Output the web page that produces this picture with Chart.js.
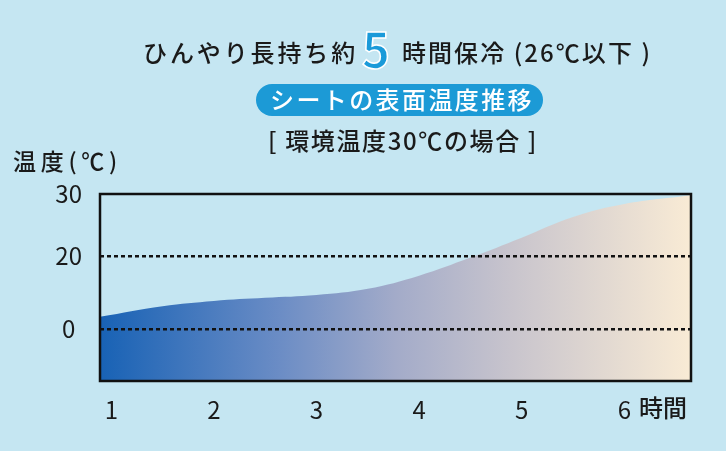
<!DOCTYPE html>
<html lang="ja">
<head>
<meta charset="utf-8">
<script src="https://cdn.jsdelivr.net/npm/chart.js@4.4.0/dist/chart.umd.min.js"></script>
<style>
html, body { margin: 0; padding: 0; background: #c5e6f2; }
</style>
</head>
<body>
<canvas id="chartCanvas" width="726" height="451"></canvas>
<script>
// data (hours -> surface temperature)
var hours = [0.89, 1.5, 2, 2.5, 3, 3.5, 4, 4.5, 5, 5.5, 6, 6.65];
var temps = [10.3, 12.0, 12.85, 13.35, 13.8, 14.8, 16.9, 19.8, 23.0, 26.3, 28.4, 29.8];
var xTicks = [1, 2, 3, 4, 5, 6];
var xTickLabels = ['1', '2', '3', '4', '5', '6'];
var yTicks = [30, 20, 8.3];
var yTickLabels = ['30', '20', '0'];

var titleLeft = 'ひんやり長持ち約';
var titleNum = '5';
var titleRight = '時間保冷 (26℃以下 )';
var pillText = 'シートの表面温度推移';
var noteText = '[ 環境温度30℃の場合 ]';
var yTitle = '温度(℃)';
var xUnit = '時間';

var FONT = '"Noto Sans CJK JP", "Noto Sans", sans-serif';
var ctx = document.getElementById('chartCanvas');

// draw text stretched between two x positions
function fitText(c, text, left, right, y) {
    c.letterSpacing = '0px';
    var w = c.measureText(text).width;
    var sp = (right - left - w) / text.length;
    c.letterSpacing = sp + 'px';
    c.textAlign = 'left';
    c.fillText(text, left, y);
    c.letterSpacing = '0px';
}

var decorPlugin = {
    id: 'decor',
    afterDatasetsDraw: function(chart) {
        var c = chart.ctx;
        var a = chart.chartArea;
        c.save();
        c.strokeStyle = '#111';
        c.lineWidth = 2.5;
        c.strokeRect(a.left, a.top, a.right - a.left, a.bottom - a.top);
        c.restore();
    },
    afterDraw: function(chart) {
        var c = chart.ctx;
        c.save();
        c.textBaseline = 'middle';
        c.fillStyle = '#1a1a1a';
        c.font = '500 24px ' + FONT;
        fitText(c, titleLeft, 143, 358, 53);
        fitText(c, titleRight, 402, 652, 53);

        // big "5"
        c.font = 'bold 48px ' + FONT;
        c.textAlign = 'center';
        c.fillStyle = '#1a9ad9';
        c.fillText(titleNum, 376, 50);
        c.strokeStyle = '#ffffff';
        c.lineWidth = 1.5;
        c.strokeText(titleNum, 376, 50);

        // pill
        c.fillStyle = '#1c9ad6';
        c.beginPath();
        c.roundRect(256, 84, 287, 32, 16);
        c.fill();
        c.fillStyle = '#ffffff';
        c.font = '500 24px ' + FONT;
        fitText(c, pillText, 270, 534, 100);

        c.fillStyle = '#1a1a1a';
        c.font = '500 24px ' + FONT;
        fitText(c, noteText, 268, 538, 141);

        c.font = '500 23px ' + FONT;
        fitText(c, yTitle, 13, 122, 161);

        c.font = '500 24px ' + FONT;
        c.textAlign = 'left';
        c.fillText(xUnit, 639, 408);
        c.restore();
    }
};

var myChart = new Chart(ctx, {
    type: 'line',
    data: {
        datasets: [{
            label: '表面温度',
            data: hours.map(function(h, i) { return { x: h, y: temps[i] }; }),
            fill: 'start',
            borderWidth: 0,
            pointRadius: 0,
            tension: 0.4,
            backgroundColor: function(context) {
                var area = context.chart.chartArea;
                if (!area) return '#1a5fb4';
                var g = context.chart.ctx.createLinearGradient(area.left, 0, area.right, 0);
                g.addColorStop(0, '#1862b5');
                g.addColorStop(0.3, '#6a8cc5');
                g.addColorStop(0.5, '#a3abc9');
                g.addColorStop(0.7, '#c9c5cd');
                g.addColorStop(1, '#f9ebd5');
                return g;
            }
        }]
    },
    options: {
        responsive: false,
        animation: false,
        layout: { padding: { top: 194, right: 35, bottom: 0, left: 0 } },
        plugins: {
            legend: { display: false },
            tooltip: { enabled: false }
        },
        scales: {
            x: {
                type: 'linear',
                min: 0.89,
                max: 6.65,
                afterBuildTicks: function(scale) {
                    scale.ticks = xTicks.map(function(v) { return { value: v }; });
                },
                afterFit: function(scale) { scale.height = 70; },
                grid: { display: false },
                border: { display: false },
                ticks: {
                    padding: 6,
                    color: '#1a1a1a',
                    font: { family: FONT, size: 24 },
                    maxRotation: 0,
                    callback: function(v, i) { return xTickLabels[i]; }
                }
            },
            y: {
                min: 0,
                max: 30,
                afterBuildTicks: function(scale) {
                    scale.ticks = yTicks.map(function(v) { return { value: v }; });
                },
                afterFit: function(scale) { scale.width = 100; },
                grid: {
                    drawTicks: false,
                    lineWidth: 2.5,
                    z: 1,
                    color: function(c) {
                        return c.tick && c.tick.value === 30 ? 'rgba(0,0,0,0)' : '#111';
                    }
                },
                border: { display: false, dash: [4, 3] },
                ticks: {
                    padding: 18,
                    crossAlign: 'center',
                    color: '#1a1a1a',
                    font: { family: FONT, size: 24 },
                    callback: function(v, i) { return yTickLabels[i]; }
                }
            }
        }
    },
    plugins: [decorPlugin]
});
</script>
</body>
</html>
